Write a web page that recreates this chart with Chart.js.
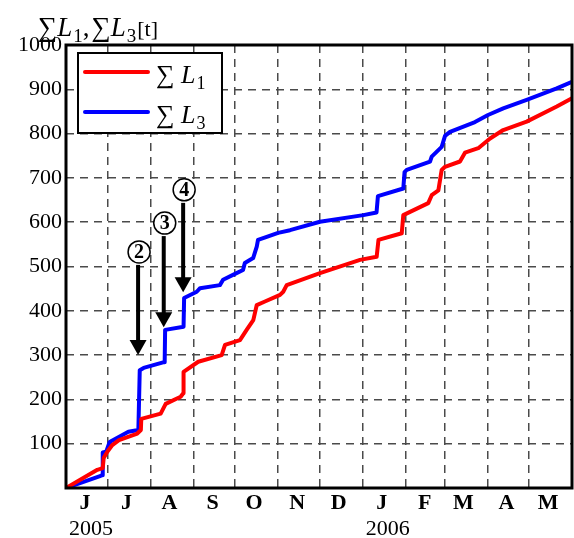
<!DOCTYPE html>
<html>
<head>
<meta charset="utf-8">
<script src="https://cdn.jsdelivr.net/npm/chart.js@4.4.0/dist/chart.umd.min.js"></script>
<style>
  html, body { margin: 0; padding: 0; background: #fff; }
</style>
</head>
<body>
<canvas id="myChart" width="574" height="538"></canvas>
<script>
// days counted from 1 June 2005
const monthStarts = [0, 30, 61, 92, 122, 153, 183, 214, 245, 273, 304, 334, 365];
const monthLabels = ['J', 'J', 'A', 'S', 'O', 'N', 'D', 'J', 'F', 'M', 'A', 'M'];
const yearStarts = [0, 214];
const yearLabels = ['2005', '2006'];

const seriesNames = ['L1', 'L3'];

// sum L1 [t]
const l1Days = [0, 22.6, 26.5, 27.2, 29.8, 33.4, 38.2, 51.4, 54, 54.3, 68.3, 71.9, 82.7, 84.6, 84.8,
  95.4, 112.3, 114.7, 125.5, 130.3, 135.1, 137.6, 143.5, 154.4, 156.7, 159.2, 183.2, 212.1, 224.1,
  225.4, 242.2, 243.3, 261.3, 263.8, 268.6, 271, 273.4, 284.2, 287.8, 297.4, 305.9, 315.4, 332.3, 354, 365];
const l1Vals = [0, 41, 45, 68, 82, 97, 108, 123, 131, 156, 168, 190, 206, 214, 262,
  285, 300, 323, 334, 357, 379, 413, 421, 436, 443, 458, 485, 515, 522,
  560, 575, 616, 643, 661, 672, 718, 725, 737, 757, 767, 789, 808, 827, 861, 880];

// sum L3 [t]
const l3Days = [0, 24.5, 26, 26.5, 29, 31.5, 45, 52.2, 53.2, 56, 70.7, 71.2, 71.5, 84.8, 85.2,
  94.3, 96.7, 111, 113.3, 123, 127.7, 129, 135, 137.6, 138.5, 144.8, 153, 161.6, 183.2, 214.5,
  224, 225, 243.3, 244.2, 245.8, 262.6, 263.8, 271, 273.4, 277, 295, 304.4, 315.4, 332.3, 354, 365];
const l3Vals = [0, 27, 29, 80, 82, 104, 127, 131, 266, 271, 284, 289, 357, 364, 429,
  443, 451, 458, 470, 485, 492, 508, 519, 545, 560, 567, 576, 582, 601, 616,
  622, 659, 676, 713, 718, 737, 748, 770, 795, 804, 826, 842, 857, 876, 902, 917];

// numbered arrows: label, day, arrow tip value, circle centre value
const markNums = ['2', '3', '4'];
const markDays = [52, 70.5, 84.5];
const markTips = [300, 363, 442];
const markTops = [533, 598, 673];

const SERIF = "'Liberation Serif', 'DejaVu Serif', serif";

function pts(xs, ys) {
  return xs.map((d, i) => ({x: d, y: ys[i]}));
}

// draws runs like [['∑',''],['L','italic'],['1','sub']]
function richText(ctx, x, y, parts, size) {
  ctx.textBaseline = 'alphabetic';
  ctx.textAlign = 'left';
  for (const [t, kind] of parts) {
    let s = size, dy = 0, style = '';
    if (kind === 'italic') style = 'italic ';
    if (kind === 'sub') { s = Math.round(size * 0.7); dy = size * 0.22; }
    ctx.font = style + s + 'px ' + SERIF;
    ctx.fillText(t, x, y + dy);
    x += ctx.measureText(t).width + (kind === 'italic' ? 1 : 0);
  }
  return x;
}

function nameParts(name, gap) {
  return [['\u2211', ''], [gap, ''], [name[0], 'italic'], [name.slice(1), 'sub']];
}

const decor = {
  id: 'decor',
  afterDatasetsDraw(chart) {
    const {ctx, chartArea: a, scales} = chart;
    const x = scales.x, y = scales.y;
    ctx.save();

    // frame
    ctx.strokeStyle = '#000';
    ctx.lineWidth = 3;
    ctx.strokeRect(a.left, a.top, a.right - a.left, a.bottom - a.top);

    // arrows with circled numbers
    ctx.fillStyle = '#000';
    markNums.forEach((n, i) => {
      const px = x.getPixelForValue(markDays[i]);
      const cy = y.getPixelForValue(markTops[i]);
      const tip = y.getPixelForValue(markTips[i]);
      const r = 11;
      ctx.lineWidth = 4;
      ctx.beginPath();
      ctx.moveTo(px, cy + r + 2);
      ctx.lineTo(px, tip - 12);
      ctx.stroke();
      ctx.beginPath();
      ctx.moveTo(px - 8.5, tip - 15);
      ctx.lineTo(px + 8.5, tip - 15);
      ctx.lineTo(px, tip);
      ctx.closePath();
      ctx.fill();
      ctx.lineWidth = 1.5;
      ctx.fillStyle = '#fff';
      ctx.beginPath();
      ctx.arc(px + 1, cy, r, 0, Math.PI * 2);
      ctx.fill();
      ctx.stroke();
      ctx.fillStyle = '#000';
      ctx.font = 'bold 20px ' + SERIF;
      ctx.textAlign = 'center';
      ctx.textBaseline = 'middle';
      ctx.fillText(n, px + 1, cy + 1);
    });

    // legend box
    const bx = a.left + 12, by = a.top + 8, bw = 144, bh = 80;
    ctx.fillStyle = '#fff';
    ctx.fillRect(bx, by, bw, bh);
    ctx.strokeStyle = '#000';
    ctx.lineWidth = 2;
    ctx.strokeRect(bx, by, bw, bh);
    chart.data.datasets.forEach((ds, i) => {
      const ly = by + 19 + 40 * i;
      ctx.strokeStyle = ds.borderColor;
      ctx.lineWidth = 4;
      ctx.lineCap = 'round';
      ctx.beginPath();
      ctx.moveTo(bx + 7, ly);
      ctx.lineTo(bx + 70, ly);
      ctx.stroke();
      ctx.fillStyle = '#000';
      richText(ctx, bx + 78, ly + 11, nameParts(ds.label, ' '), 26);
    });

    // axis title
    ctx.fillStyle = '#000';
    let tx = richText(ctx, 38, 36, nameParts(seriesNames[0], ''), 27);
    tx = richText(ctx, tx, 36, [[',', '']], 27);
    tx = richText(ctx, tx + 2, 36, nameParts(seriesNames[1], ''), 27);
    richText(ctx, tx + 1, 36, [['[t]', '']], 22);

    ctx.restore();
  }
};

const gridStyle = {color: '#4a4a4a', lineWidth: 1.5, drawTicks: false};

const data = {
  datasets: [{
    label: seriesNames[0],
    data: pts(l1Days, l1Vals),
    borderColor: '#ff0000',
    borderWidth: 4,
  }, {
    label: seriesNames[1],
    data: pts(l3Days, l3Vals),
    borderColor: '#0000ff',
    borderWidth: 4,
  }],
};

const option = {
  responsive: false,
  animation: false,
  devicePixelRatio: 1,
  layout: {padding: {left: 0, right: 2, top: 45, bottom: 0}},
  elements: {point: {radius: 0}, line: {tension: 0, borderJoinStyle: 'round'}},
  plugins: {legend: {display: false}, tooltip: {enabled: false}, title: {display: false}},
  scales: {
    x: {
      type: 'linear', position: 'bottom', min: 0, max: 365,
      grid: gridStyle,
      border: {display: false, dash: [8, 6]},
      afterBuildTicks: s => { s.ticks = monthStarts.map(v => ({value: v})); },
      afterFit: s => { s.height = 28; },
      ticks: {
        autoSkip: false, maxRotation: 0, labelOffset: 19, padding: 2, color: '#000',
        font: {family: SERIF, size: 22, weight: 'bold'},
        callback: (v, i) => monthLabels[i] || '',
      },
    },
    years: {
      type: 'linear', position: 'bottom', min: 0, max: 365,
      grid: {display: false, drawTicks: false},
      border: {display: false},
      afterBuildTicks: s => { s.ticks = yearStarts.map(v => ({value: v})); },
      afterFit: s => { s.height = 22; },
      ticks: {
        autoSkip: false, maxRotation: 0, align: 'start', labelOffset: 3, padding: 0, color: '#000',
        font: {family: SERIF, size: 22},
        callback: (v, i) => yearLabels[i] || '',
      },
    },
    y: {
      min: 0, max: 1000,
      grid: gridStyle,
      border: {display: false, dash: [8, 6]},
      afterFit: s => { s.width = 66; },
      ticks: {
        stepSize: 100, padding: 4, color: '#000',
        font: {family: SERIF, size: 22},
        callback: v => (v === 0 ? '' : v),
      },
    },
  },
};

var canvas = document.getElementById('myChart').getContext('2d');
var myChart = new Chart(canvas, {type: 'line', data: data, options: option, plugins: [decor]});
</script>
</body>
</html>
